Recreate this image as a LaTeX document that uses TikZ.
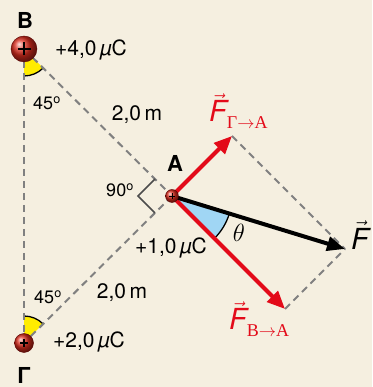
\documentclass[tikz,border=0pt]{standalone}
\usepackage{fontspec}
\setmainfont{TeX Gyre Heros}
\newfontfamily\tms{Liberation Serif}
\usetikzlibrary{arrows.meta,calc}
\definecolor{bg}{RGB}{245,239,224}
\definecolor{fred}{RGB}{227,10,25}
\definecolor{wblue}{RGB}{160,214,244}
\definecolor{wyel}{RGB}{255,236,0}
\definecolor{dgray}{RGB}{128,128,128}
\definecolor{ballred}{RGB}{220,45,30}
\newcommand{\vecF}{\ensuremath{\vec{\mbox{\itshape F}}}}
\tikzset{
  lbl/.style={font=\fontsize{21}{23}\selectfont, inner sep=0pt},
  flbl/.style={font=\fontsize{29}{31}\selectfont, inner sep=0pt},
  blbl/.style={font=\fontsize{22}{24}\selectfont\bfseries, inner sep=0pt},
  dashline/.style={draw=dgray, line width=2pt, dash pattern=on 7pt off 5pt},
  force/.style={draw=fred, line width=4pt, -{Triangle[length=18pt,width=15pt]}},
  resultant/.style={draw=black, line width=4pt, -{Triangle[length=18pt,width=14pt]}},
  charge/.style={circle, ball color=ballred, draw=red!35!black, line width=0.4pt, inner sep=0pt},
}
\begin{document}
\begin{tikzpicture}[x=1pt,y=1pt]
\fill[bg] (0,0) rectangle (372,387);
\useasboundingbox (0,0) rectangle (372,387);
\coordinate (B) at (24,338);
\coordinate (G) at (24,44);
\coordinate (A) at (172,191);
\coordinate (FG) at (232,251);
\coordinate (FB) at (285,78);
\coordinate (F) at (345,138);
% wedges
\fill[wyel] (B) -- ++(-90:27) arc[start angle=-90,end angle=-45,radius=27] -- cycle;
\draw[black, line width=1.3pt] ($(B)+(-90:27)$) arc[start angle=-90,end angle=-45,radius=27];
\fill[wyel] (G) -- ++(90:27) arc[start angle=90,end angle=45,radius=27] -- cycle;
\draw[black, line width=1.3pt] ($(G)+(90:27)$) arc[start angle=90,end angle=45,radius=27];
\fill[wblue] (A) -- ++(-45:60) arc[start angle=-45,end angle=-17,radius=60] -- cycle;
\draw[black, line width=1.3pt] ($(A)+(-45:60)$) arc[start angle=-45,end angle=-17,radius=60];
% dashed lines
\draw[dashline] (B) -- (G);
\draw[dashline] (B) -- (A);
\draw[dashline] (A) -- (G);
\draw[dashline] (FG) -- (F);
\draw[dashline] (FB) -- (F);
% right angle
\draw[black!70, line width=1.6pt] ($(A)+(-17,17)$) -- ($(A)+(-34,0)$) -- ($(A)+(-17,-17)$);
% forces
\draw[force] (A) -- (FG);
\draw[force] (A) -- (FB);
\draw[resultant] (A) -- (F);
% charges
\node[charge, minimum size=26pt] (qB) at (B) {};
\node[charge, minimum size=19pt] (qG) at (G) {};
\node[charge, minimum size=13pt] (qA) at (A) {};
\draw[line width=2.2pt] ($(B)+(-6.5,0)$) -- ($(B)+(6.5,0)$) ($(B)+(0,-6.5)$) -- ($(B)+(0,6.5)$);
\draw[line width=1.3pt] ($(G)+(-4,0)$) -- ($(G)+(4,0)$) ($(G)+(0,-4)$) -- ($(G)+(0,4)$);
\draw[line width=0.9pt] ($(A)+(-3,0)$) -- ($(A)+(3,0)$) ($(A)+(0,-3)$) -- ($(A)+(0,3)$);
% labels
\node[blbl] (lB) at (25,367) {B};
\node[blbl] (lA) at (175,224) {A};
\node[blbl] (lG) at (24,12) {Γ};
\node[lbl] (cB) at (91,337) {+4,0\,{\itshape µ}C};
\node[lbl] (cA) at (171,139) {+1,0\,{\itshape µ}C};
\node[lbl] (cG) at (89,45) {+2,0\,{\itshape µ}C};
\node[lbl, font=\fontsize{18}{20}\selectfont] (aB) at (47,284) {45\textsuperscript{o}};
\node[lbl, font=\fontsize{18}{20}\selectfont] (aG) at (48,90) {45\textsuperscript{o}};
\node[lbl, font=\fontsize{18}{20}\selectfont] (aA) at (120,197) {90\textsuperscript{o}};
\node[lbl] (d1) at (137,272) {2,0\,m};
\node[lbl] (d2) at (122,94) {2,0\,m};
\node[lbl, font=\fontsize{26}{28}\selectfont] (th) at (239,154) {$\theta$};
\node[flbl] (lF) at (360,152) {\vecF};
\node[flbl, text=fred, anchor=west] (lFG) at (209,276) {\vecF{\tms\fontsize{18}{20}\selectfont\raisebox{-7pt}{Γ$\to$A}}};
\node[flbl, text=fred, anchor=west] (lFB) at (229,68) {\vecF{\tms\fontsize{18}{20}\selectfont\raisebox{-7pt}{B$\to$A}}};
\end{tikzpicture}
\end{document}
